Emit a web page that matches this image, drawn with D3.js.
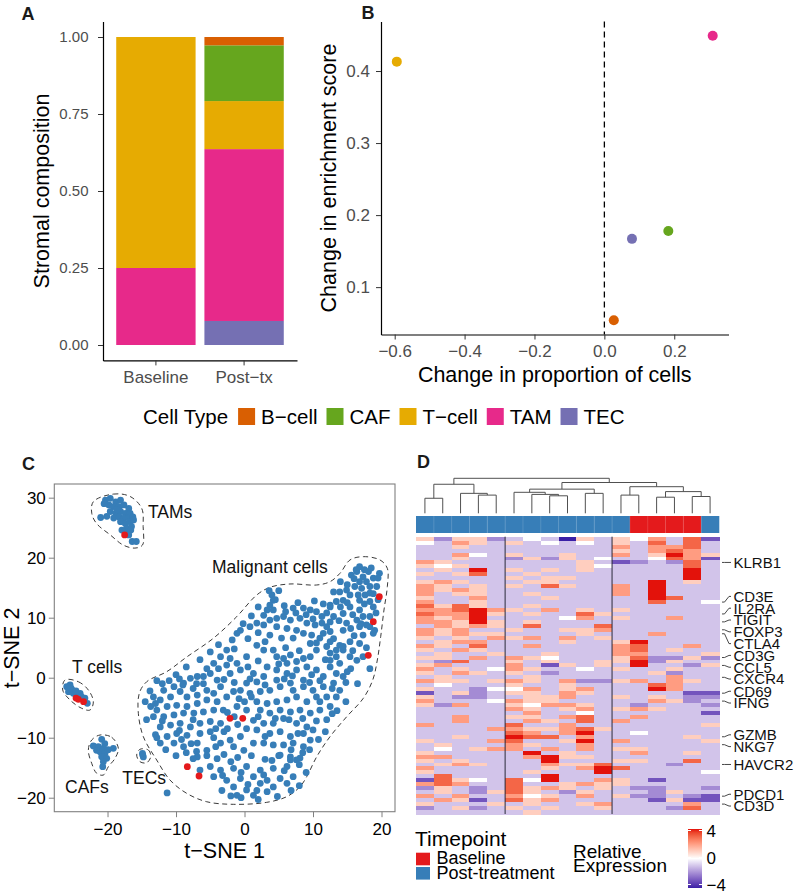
<!DOCTYPE html>
<html><head><meta charset="utf-8">
<script src="https://cdn.jsdelivr.net/npm/d3@7"></script>
<style>
body{margin:0;background:#fff}
svg{display:block}
text{font-family:"Liberation Sans",Arial,Helvetica,sans-serif}
</style>
</head><body>
<svg id="fig" width="800" height="895"></svg>
<script>
// ---------------- DATA ----------------
// Panel A: stromal composition
const compCategories = ["Baseline", "Post\u2212tx"];
const cellTypes = ["B\u2212cell", "CAF", "T\u2212cell", "TAM", "TEC"];
const cellColors = ["#D95F02", "#66A61E", "#E6AB02", "#E7298A", "#7570B3"];
const compBaseline = [0, 0, 0.75, 0.25, 0];
const compPostTx = [0.027, 0.181, 0.156, 0.558, 0.078];
const compTicks = [0, 0.25, 0.5, 0.75, 1];

// Panel B: change in proportion vs change in enrichment (same order as cellTypes)
const deltaProportion = [0.027, 0.183, -0.594, 0.31, 0.079];
const deltaEnrichment = [0.054, 0.178, 0.413, 0.449, 0.167];
const bXTicks = [-0.6, -0.4, -0.2, 0, 0.2];
const bYTicks = [0.1, 0.2, 0.3, 0.4];

// Panel C: t-SNE coordinates
const tsneXTicks = [-20, -10, 0, 10, 20];
const tsneYTicks = [-20, -10, 0, 10, 20, 30];
const tsneTAM = [[-21.0,26.7],[-20.3,29.6],[-19.6,29.9],[-18.8,29.3],[-18.1,29.6],[-19.8,28.8],[-19.1,28.5],[-18.3,28.5],[-17.6,28.8],[-16.9,28.2],[-19.6,27.7],[-18.8,27.4],[-18.1,27.7],[-17.4,27.4],[-16.7,27.4],[-20.1,26.9],[-19.1,26.6],[-18.3,26.8],[-17.6,26.6],[-16.9,26.6],[-16.3,26.8],[-18.1,26.0],[-17.4,25.7],[-16.7,26.0],[-17.2,24.9],[-16.5,25.2],[-17.9,24.6],[-17.4,24.1],[-16.6,24.6],[-16.4,22.7],[-15.8,22.7],[-20.5,29.0],[-18.6,28.0],[-16.2,26.3],[-16.9,23.8]];
const tsneTcell = [[-25.96,-1.5],[-25.47,-1.22],[-25.2,-2.05],[-25.7,-2.33],[-25.0,-2.6],[-24.0,-2.6],[-23.3,-3.4],[-22.95,-4.27],[-24.5,-3.1],[-23.8,-3.2],[-25.3,-1.8],[-24.6,-2.2]];
const tsneCAF = [[-20.85,-10.27],[-22.07,-11.38],[-21.34,-11.5],[-20.61,-11.77],[-19.15,-11.77],[-21.09,-12.33],[-20.36,-12.6],[-20.85,-13.17],[-20.12,-13.43],[-20.61,-14.0],[-20.7,-14.83],[-21.6,-12.1],[-19.9,-12.0],[-20.4,-11.0]];
const tsneTEC = [[-14.86,-12.88],[-14.77,-13.2],[-14.9,-12.6]];
const tsneOther = [[-11.3,-19.2]];
const tsneMalignant = [
[16.8,18.5],[18.1,17.7],[19.7,17.4],[16.4,17.7],[17.3,16.8],[15.6,17.1],[16.8,16.0],[17.8,16.0],[18.8,16.6],[19.5,16.6],[16.1,15.2],[17.1,14.9],[18.3,15.2],[19.3,15.2],[14.9,14.6],[13.9,14.3],[13.0,14.3],[15.4,13.8],[16.6,13.8],[17.6,13.8],[18.3,14.1],[16.8,12.9],[14.4,12.9],[13.4,12.7],[12.5,12.1],[18.3,12.7],[16.0,16.5],[17.5,18.0],[18.8,14.0],[15.0,15.5],
[12.5,11.8],[15.4,11.8],[16.8,11.3],[14.4,10.7],[17.3,10.2],[18.3,10.2],[13.0,10.2],[16.4,9.6],[14.9,9.1],[18.3,8.5],[19.0,7.9],[16.8,8.5],[14.4,7.9],[12.5,7.7],[11.5,7.4],[17.3,7.1],[18.8,7.4],[16.8,5.7],[15.4,6.0],[13.9,5.4],[14.4,4.6],[13.4,3.5],[15.4,3.5],[17.3,3.5],[16.4,2.9],[12.5,2.9],[13.9,2.4],
[4.0,13.8],[4.2,12.9],[3.7,12.1],[3.3,11.3],[4.2,11.3],[2.8,10.4],[7.1,11.6],[8.6,11.6],[9.6,11.3],[10.5,11.0],[5.7,10.2],[6.7,9.6],[8.1,9.9],[9.1,9.1],[10.3,8.8],[11.3,9.1],[12.0,8.5],[12.5,9.3],[11.3,10.2],[4.7,9.9],[3.7,9.6],[1.8,9.1],[0.8,8.5],[-0.6,7.9],[-1.1,7.4],[2.8,8.8],[4.7,8.5],[6.2,8.2],[7.6,7.9],[8.6,7.4],[9.8,7.1],[11.0,6.6],[3.7,7.1],[1.8,5.4],[5.4,6.6],[7.1,6.6],[9.6,5.7],[12.0,5.2],[12.5,6.0],
[-2.6,4.6],[-3.5,3.5],[-2.1,3.2],[-4.5,2.4],[-2.6,2.1],[-1.1,2.4],[0.3,3.5],[2.8,4.6],[4.2,4.6],[4.7,3.5],[5.7,3.2],[6.7,3.8],[6.2,2.4],[7.6,2.7],[8.6,3.2],[9.6,3.5],[10.5,4.6],[12.5,4.1],[13.4,4.6],[14.4,5.2],[3.3,1.8],[4.7,1.3],[6.2,0.7],[7.6,1.3],[9.1,1.8],[10.5,1.3],[12.5,1.8],[13.4,0.7],[14.4,0.2],[11.5,0.2],[8.6,-0.4],[6.7,-0.9],[4.7,-0.4],[2.8,0.2],[1.3,0.7],[-0.6,1.3],[-2.1,0.7],[-5.0,0.7],[-6.0,0.2],[-6.9,0.2],[-7.9,-0.1],[-8.9,-0.9],[-4.0,-0.4],[0.3,-0.9],[1.8,-0.7],
[-11.8,-2.1],[-10.3,-1.5],[-9.4,-2.3],[-13.3,-3.2],[-12.3,-3.7],[-10.8,-3.2],[-8.4,-3.2],[-6.9,-2.9],[-5.5,-2.1],[-4.5,-2.6],[-3.5,-1.5],[-13.7,-4.8],[-12.8,-5.4],[-11.3,-4.8],[-9.9,-4.6],[-8.4,-4.8],[-6.9,-4.3],[-5.5,-3.7],[-4.0,-4.0],[-2.6,-3.2],[-1.6,-2.3],[-13.3,-6.5],[-11.8,-6.5],[-10.3,-6.2],[-8.9,-5.9],[-7.4,-5.9],[-6.0,-5.7],[-4.5,-5.4],[-3.1,-5.4],[-1.1,-4.8],[-12.3,-8.2],[-10.8,-7.9],[-9.4,-7.6],[-7.9,-8.2],[-6.5,-7.6],[-5.0,-7.3],[-3.5,-7.6],[-11.3,-9.8],[-9.9,-9.3],[-8.4,-9.6],[-6.5,-9.3],[-5.0,-9.0],[-12.3,-10.9],[-10.3,-10.9],[-8.9,-11.5],[-6.9,-10.9],[-5.5,-12.1],[-3.5,-10.9],[-2.1,-10.4],
[-0.6,-2.1],[0.8,-2.6],[2.3,-2.3],[3.7,-2.1],[5.2,-1.5],[7.1,-2.1],[8.6,-1.5],[10.0,-2.1],[11.5,-1.5],[13.0,-0.9],[13.9,-2.1],[1.8,-4.0],[3.3,-4.3],[4.7,-4.0],[6.2,-3.7],[7.6,-3.2],[9.1,-4.0],[10.5,-3.2],[12.0,-3.2],[13.4,-3.2],[0.3,-5.4],[2.3,-5.4],[3.7,-5.9],[5.2,-5.4],[6.7,-5.7],[8.1,-5.4],[9.6,-5.9],[11.0,-5.4],[12.5,-4.8],[1.3,-7.1],[2.8,-7.6],[4.2,-7.6],[5.7,-6.8],[7.6,-7.6],[9.1,-8.2],[1.8,-8.7],[3.7,-9.3],[5.2,-9.0],[6.7,-9.8],[8.6,-9.3],[10.0,-8.7],[-0.6,-9.8],[-1.6,-11.5],[-0.1,-12.1],[1.3,-10.9],[2.8,-10.9],[4.2,-11.2],[5.7,-11.2],[7.1,-10.9],[8.6,-11.5],[8.1,-13.4],[6.7,-13.2],[5.2,-12.9],[9.6,-10.4],
[6.7,-13.7],[-5.0,-14.8],[-3.5,-15.4],[-1.6,-15.1],[0.3,-14.8],[2.3,-15.4],[4.2,-15.1],[6.2,-14.8],[7.6,-13.7],[-4.5,-16.5],[-2.6,-17.1],[-0.6,-16.8],[1.3,-16.5],[3.3,-17.1],[5.2,-16.8],[7.1,-16.5],[-1.6,-18.2],[0.3,-18.7],[2.3,-17.6],[4.2,-18.2],[6.2,-17.6],[-1.1,-19.6],[1.3,-19.6],[3.3,-19.0],[-6.5,-15.4],[-6.9,-13.2],[-7.5,-13.5],[-5.5,-13.0],[-4.0,-13.5],[-3.0,-12.8],[-1.0,-13.3],[1.0,-13.0],[3.0,-13.6],[5.0,-13.0],[8.0,-14.5],[8.5,-12.5],
[-12.0,-1.0],[-13.8,-2.2],[-9.0,-1.2],[-7.5,-1.8],[-6.0,-1.0],[-3.0,-0.3],[-1.5,-0.8],[0.8,-0.2],[3.0,-1.2],[5.8,-0.2],[9.8,0.5],[11.0,-0.5],[12.8,-1.8],[14.8,-0.8],[15.5,1.5],[15.8,4.5],[17.8,5.0],[18.3,1.5],[16.0,7.0],[17.8,8.8],[19.2,10.8],[15.8,10.5],[14.0,11.8],[11.5,12.3],[10.2,12.8],[7.8,12.5],[5.8,12.0],[3.6,14.5],[2.0,11.8],[1.0,10.3],[-0.2,9.0],[-1.8,6.3],[-3.8,5.5],[-5.0,4.3],[-6.5,3.0],[-8.5,1.8],[-10.0,0.5],[-12.8,-0.5],[-14.5,-4.0],[-14.3,-7.0],[-13.0,-9.5],[-11.5,-12.0],[-10.0,-13.0],[-8.5,-12.5],[-7.0,-12.3],[-3.0,-9.0],[-1.5,-6.5],[0.0,-4.0],[4.0,-13.8],[6.8,-12.0],[10.8,-10.3],[12.0,-7.0],[13.5,-5.5],[14.8,-4.0],[11.8,-9.0],[-4.2,-11.5],[-2.0,-14.0],[0.5,-17.8],[4.8,-19.8],[6.8,-18.8],[-0.5,-20.0],[2.0,-20.3],[8.0,-18.0],[9.0,-15.8],[-3.3,-18.8],
[5.0,14.5],[4.5,13.0],[6.0,11.0],[7.5,10.8],[9.0,10.5],[10.0,9.8],[12.0,10.8],[13.8,9.5],[15.5,8.2],[17.0,9.0],[18.8,11.8],[19.5,13.0],[17.5,12.3],[15.0,12.5],[14.0,16.0],[16.3,18.0],[18.5,18.3],
[0.5,6.5],[2.0,7.5],[3.0,6.0],[6.0,5.0],[8.0,4.5],[10.5,5.8],[11.8,3.0],[13.0,6.5],[15.0,1.0],[16.5,-1.0],[9.5,-0.8],[7.0,0.3],[5.0,2.3],[2.0,2.8],[0.5,1.8],[-1.5,4.8],[-3.8,1.5],[-5.5,1.5],[-7.0,-1.0],[-9.5,-0.2],[-11.0,-0.5],
[-13.0,-4.3],[-12.0,-7.2],[-9.5,-8.8],[-7.5,-7.0],[-4.2,-8.5],[-2.5,-8.5],[-1.0,-7.8],[0.3,-8.5],[-2.5,-5.8],[-0.8,-3.5],[1.0,-3.2],[-12.8,-10.0],[-9.2,-10.3],[-7.8,-11.0],[-4.5,-10.0],
[2.0,-6.5],[4.5,-6.8],[6.5,-7.0],[8.5,-6.8],[10.5,-7.2],[11.0,-4.0],[12.8,-6.0],[3.0,-9.8],[7.8,-9.3],[9.5,-12.0],[-0.5,-15.8],[2.8,-16.2],[5.8,-15.5],[-3.2,-16.3],[1.8,-18.8],[-2.0,-19.7]
];
const tsneBaselineCells = [[-17.5,23.8],[-24.26,-3.6],[-23.5,-4.0],[-24.6,-3.4],[19.68,13.5],[18.8,9.33],[18.07,3.73],[-2.12,-6.77],[-0.26,-6.77],[-8.35,-14.83],[-6.64,-16.38]];
// dashed outlines around the clusters (t-SNE units)
const hullTAM = [[-22.07,29.33],[-19.15,30.6],[-16.7,30.2],[-15.0,28.2],[-14.8,25.2],[-14.9,22.1],[-16.0,21.6],[-17.7,22.1],[-19.6,23.8],[-21.6,25.7],[-22.3,27.4]];
const hullMalignant = [[15.40,19.62],[17.34,20.17],[19.78,19.62],[20.85,18.23],[20.85,15.17],[20.36,11.28],[19.88,6.83],[19.39,2.95],[18.72,-0.38],[17.34,-3.43],[14.92,-6.5],[12.48,-9.83],[10.54,-13.17],[9.08,-16.5],[8.10,-18.17],[6.16,-19.83],[3.24,-20.77],[-1.64,-21.1],[-5.52,-20.67],[-8.44,-19.27],[-10.88,-17.05],[-12.82,-13.72],[-14.77,-9.83],[-15.50,-5.93],[-15.36,-2.6],[-14.28,-0.67],[-11.36,1.0],[-8.44,3.45],[-4.55,6.57],[-1.14,10.17],[1.78,13.78],[3.72,15.07],[6.64,15.62],[10.54,15.45],[12.48,16.0],[13.94,17.4]];
const hullTcell = [[-26.2,-0.38],[-24.26,-0.67],[-22.8,-2.05],[-22.07,-4.0],[-22.55,-5.38],[-23.77,-5.1],[-25.47,-3.72],[-26.54,-2.05]];
const hullCAF = [[-21.09,-9.55],[-19.39,-9.93],[-18.42,-11.77],[-18.9,-13.43],[-19.88,-14.83],[-20.61,-16.22],[-21.58,-15.93],[-22.31,-14.27],[-22.8,-12.05],[-22.31,-10.38]];
const hullTEC = [[-15.26,-11.93],[-14.04,-12.05],[-13.69,-13.17],[-14.28,-14.17],[-15.26,-14.0],[-15.74,-12.88]];
const clusterLabels = [["TAMs",-14.1,26.6],["Malignant cells",-4.74,17.5],["T cells",-25.2,0.83],["CAFs",-26.2,-19.2],["TECs",-17.84,-17.7]];

// Panel D: heatmap
const timepoint = ["Post-treatment","Post-treatment","Post-treatment","Post-treatment","Post-treatment","Post-treatment","Post-treatment","Post-treatment","Post-treatment","Post-treatment","Post-treatment","Post-treatment","Baseline","Baseline","Baseline","Baseline","Post-treatment"];
const timepointLevels = ["Baseline","Post-treatment"];
const timepointColors = ["#E41A1C","#377EB8"];
const columnSplits = [5, 11];
const heatRows = [
[1,-2,1,1,-2, -1,0,-1,-4,1,-1, 1,0,2,-1,3,-3],
[0,-1,2,1,-1, 1,-1,0,-1,0,-1, 1,-1,3,-1,3,-1],
[-1,-1,1,-1,-1, -1,-1,-1,-1,-1,-1, 2,-1,2,2,3,-1],
[-1,-1,-1,-1,-1, -1,-1,-1,-1,-1,-1, 1,-1,2,3,2,-1],
[-1,-1,2,0,-1, 1,-1,-1,1,-1,-1, 2,-1,1,4,2,1],
[-1,-1,1,-1,-1, -2,1,-2,1,-1,0, -1,-1,0,3,2,-3],
[2,1,-1,-1,-1, -1,-1,-1,-1,1,-1, -3,-2,-1,-2,3,-1],
[1,0,1,-1,-1, -1,-1,-1,-1,1,0, -1,-1,-1,-1,3,-1],
[-1,1,-1,4,-1, 1,-1,1,-1,1,-1, -1,-1,-1,-1,4,-1],
[1,-1,1,3,-1, -1,1,-1,-1,-1,-1, -1,-1,-1,-1,4,-1],
[-1,-1,-1,-1,-1, 1,-1,1,1,-1,-1, -1,-1,-1,-1,4,-1],
[1,2,1,-1,-1, -1,1,1,-1,-1,-1, -1,-1,4,-1,1,-1],
[2,1,-1,1,-1, 1,-1,3,1,-1,-1, 2,-1,4,-1,-1,-1],
[2,1,2,1,-1, -1,-1,-1,-1,-1,-1, 2,-1,4,-1,-1,-1],
[2,-1,1,1,-1, -1,1,-1,-1,-1,-1, 2,-1,4,-1,-1,-1],
[1,-1,-1,2,-1, -1,-1,1,-1,-1,-1, -1,-1,4,3,-1,-1],
[2,-1,-1,1,-1, -1,-1,-1,-1,-1,-1, -1,-1,3,-1,-1,0],
[3,1,3,1,-1, -1,1,-1,-1,-1,-1, -1,-1,-1,-1,-1,-1],
[2,2,3,4,2, 1,-1,2,-1,1,-1, 1,-1,-1,-1,-1,-1],
[3,2,2,4,1, -1,1,-1,-1,3,1, -1,-1,-1,-1,-1,-1],
[2,1,2,4,-1, -1,-1,-1,0,2,-1, 1,-1,-1,2,-1,-1],
[2,2,1,4,1, -1,1,-1,-1,-1,-1, -1,-1,-1,-1,-1,-1],
[-1,2,1,2,1, -1,3,-1,-1,-1,3, -1,-1,-1,-1,-1,-1],
[2,1,2,-1,-1, 1,-1,-1,1,1,2, -1,-1,-1,-1,-1,-1],
[2,1,2,1,1, -1,-1,-1,-1,1,-1, -1,-1,2,-1,-1,-1],
[1,-1,1,-1,2, 1,2,-1,2,-1,1, -1,-1,-1,-1,-1,-1],
[-1,1,2,2,-1, -1,-1,-1,1,-1,-1, 1,4,-1,-1,-1,-1],
[2,1,-1,3,-1, -1,2,-1,-1,-1,-1, 2,3,-1,-1,2,-1],
[1,-1,2,1,-1, -1,-1,-1,-1,-1,-1, 2,3,-1,1,-1,-1],
[-1,1,-1,-1,1, -1,-1,1,-1,-1,-1, 2,2,-1,-1,-1,1],
[1,1,-1,2,-1, 2,1,0,-1,-1,-1, 1,3,-2,-2,1,-2],
[-1,-2,3,-1,-1, 1,-1,1,-1,-1,1, 1,4,-2,1,-1,-1],
[1,2,-1,-1,-1, 2,-1,-3,1,-1,1, -1,4,-1,-1,-2,1],
[2,-1,1,-1,0, 2,1,-1,-1,0,-1, 1,-1,-1,1,-1,-1],
[1,-1,2,1,-1, 1,-1,-2,-1,-1,-1, -1,-1,1,-2,-1,-1],
[-1,1,-1,-1,-1, -1,1,-1,-1,-1,-1, -1,-1,-1,2,-1,-1],
[2,1,1,-1,1, 2,1,-1,2,-2,-2, 1,2,-1,2,1,-1],
[-1,0,-1,-1,-1, 1,-1,-1,1,-1,-1, -1,-1,3,2,-1,-1],
[1,-1,-1,-2,0, 0,2,-1,1,2,-1, -1,-1,4,2,-1,-1],
[-3,-1,1,-2,-1, 1,1,-1,2,1,-1, -1,-1,-1,-1,-3,-3],
[1,-1,-2,-2,-1, -1,1,1,2,-1,-1, 1,-1,1,-1,-2,-2],
[2,-1,-1,-1,0, 2,1,1,-1,-1,-1, -1,-1,2,1,-2,-1],
[1,-2,2,-1,-1, 1,0,2,2,1,-1, -1,-2,-1,-1,-1,-2],
[-1,-1,-1,-1,-1, 2,1,-1,1,2,-1, 1,2,1,-1,-1,-1],
[-1,-1,-1,-1,-1, -1,2,-1,-1,0,-1, -1,-1,-1,-1,-1,-3],
[-1,-1,2,-1,-1, 1,1,-1,2,3,-1, -1,2,-1,-1,-1,-1],
[-1,-1,2,-1,-1, -1,2,1,-1,3,-1, 2,-1,-1,-1,-1,-1],
[2,-1,-1,-1,-1, 3,-1,-1,2,-1,-1, -1,-1,-1,-1,-1,1],
[-1,-1,-1,-1,2, 2,1,1,2,3,1, -1,-1,-1,-1,-1,-1],
[-1,-1,-1,-1,-1, 3,2,-1,2,4,-1, -1,0,-1,-1,-1,-1],
[-1,-1,1,-1,-1, 4,3,3,-1,2,-1, -1,-1,-1,-1,1,-1],
[1,-1,-1,-1,2, 3,-1,-1,1,4,-1, 2,-1,-1,-1,-1,1],
[-1,1,-1,-1,-1, 2,1,-1,-1,2,-1, -1,-1,-1,-1,-1,-1],
[-1,0,-1,1,2, 2,-1,2,-1,2,-1, 1,1,-1,-1,-1,-1],
[1,-1,-1,-1,-1, -1,4,-1,1,-1,-1, -1,2,-1,-1,1,-1],
[2,2,-1,-1,-1, -1,2,4,1,1,-1, -1,-1,-1,-1,-1,-1],
[1,-1,1,-1,-1, -1,-1,4,-1,-1,-1, 1,1,-1,-1,3,-1],
[-1,1,2,1,-1, -1,-1,2,1,1,3, -1,-1,-1,-2,-1,-1],
[2,-1,-1,-1,-1, -1,-1,1,-1,2,4, 3,-1,-1,-1,-1,-1],
[1,-1,-1,-1,-1, -1,1,-1,-1,-1,4, -1,-1,-1,-1,-1,0],
[-1,3,-1,-1,-1, -1,-1,4,-1,-1,-1, -1,-1,-1,-1,-1,-1],
[-3,3,1,0,-1, 3,0,4,-1,-1,2, 1,-1,-3,-1,-1,-1],
[2,3,2,-1,-1, 3,-1,-1,1,2,1, 1,-1,-1,-1,-1,-1],
[-2,1,-1,-2,-1, 3,1,2,1,-1,1, -1,-2,-2,-1,-1,-2],
[-1,1,-1,-2,1, 3,1,-1,-2,1,-1, -1,-1,-2,1,-1,-1],
[2,-1,2,-1,-1, 2,0,1,-1,2,-1, 1,-2,-2,-1,-2,-3],
[-1,2,1,-3,-1, 3,1,2,-1,-1,-1, -1,-1,-3,1,-3,-3],
[1,-1,-1,-1,1, -1,1,-1,-1,1,2, -1,-1,-1,-1,2,-1],
[-2,-1,1,-2,-1, 1,-1,1,-1,-1,1, -1,-1,-1,-2,3,-1],
[-1,-1,-1,-1,-1, -1,1,-1,-1,-1,-1, -1,-1,-1,-1,-1,-1]
];
const geneNames = ["KLRB1","CD3E","IL2RA","TIGIT","FOXP3","CTLA4","CD3G","CCL5","CXCR4","CD69","IFNG","GZMB","NKG7","HAVCR2","PDCD1","CD3D"];
const geneRows  = [6,16,19,21,23,24,30,32,35,39,41,50,52,57,65,67];
const exprTicks = [-4, 0, 4];
// column dendrogram (merge heights)
const dendro = {h:10, children:[
  {h:8.3, children:[{h:4.3, children:[{leaf:0},{leaf:1}]}, {h:5.7, children:[{leaf:2},{h:5.2, children:[{leaf:3},{leaf:4}]}]}]},
  {h:8.8, children:[
    {h:6.9, children:[{h:6.0, children:[{leaf:5},{h:5.4, children:[{leaf:6},{h:5.0, children:[{leaf:7},{leaf:8}]}]}]}, {h:5.7, children:[{leaf:9},{leaf:10}]}]},
    {h:7.6, children:[{h:5.2, children:[{leaf:11},{leaf:12}]}, {h:6.2, children:[{h:4.6, children:[{leaf:13},{leaf:14}]}, {h:4.8, children:[{leaf:15},{leaf:16}]}]}]}
  ]}
]};

// ---------------- DRAWING ----------------
const svg = d3.select("#fig");
const MINUS = "\u2212";

function panelLabel(t, x, y) {
  svg.append("text").attr("x", x).attr("y", y).attr("font-size", 18)
    .attr("font-weight", "bold").attr("fill", "#1a1a1a").text(t);
}
function styleAxis(g, opts) {
  g.select(".domain").attr("stroke", opts.domain || "#000").attr("stroke-width", opts.dw || 1.2)
    .style("display", opts.hideDomain ? "none" : null);
  g.selectAll(".tick line").attr("stroke", opts.tick || "#333").attr("stroke-width", 1);
  g.selectAll(".tick text").attr("font-size", opts.fs).attr("fill", opts.fill || "#4D4D4D")
    .attr("font-family", '"Liberation Sans",Arial,sans-serif');
}

// ===== Panel A =====
panelLabel("A", 21.5, 19.5);
const aX = d3.scaleBand().domain(compCategories).range([103, 297]).paddingInner(0.1).paddingOuter(0.15);
const aY = d3.scaleLinear().domain([-0.05, 1.05]).range([360.4, 21.6]);
[compBaseline, compPostTx].forEach((vals, ci) => {
  let cum = 0;
  for (let k = cellTypes.length - 1; k >= 0; k--) {
    const v = vals[k];
    if (v > 0) {
      svg.append("rect").attr("x", aX(compCategories[ci])).attr("width", aX.bandwidth())
        .attr("y", aY(cum + v)).attr("height", aY(cum) - aY(cum + v)).attr("fill", cellColors[k]);
    }
    cum += v;
  }
});
const gAy = svg.append("g").attr("transform", "translate(103,0)")
  .call(d3.axisLeft(aY).tickValues(compTicks).tickFormat(d3.format(".2f")).tickSize(5).tickSizeOuter(0).tickPadding(9.5));
styleAxis(gAy, {fs: 15});
const gAx = svg.append("g").attr("transform", "translate(0,360.4)")
  .call(d3.axisBottom(aX).tickSize(5).tickSizeOuter(0).tickPadding(5.5));
styleAxis(gAx, {fs: 17});
svg.append("text").attr("transform", "translate(48.5,191) rotate(-90)").attr("text-anchor", "middle")
  .attr("font-size", 21.5).attr("fill", "#000").text("Stromal composition");

// ===== Panel B =====
panelLabel("B", 361.5, 19);
const xe = d3.extent(deltaProportion), ye = d3.extent(deltaEnrichment);
const px = (xe[1] - xe[0]) * 0.05, py = (ye[1] - ye[0]) * 0.05;
const bX = d3.scaleLinear().domain([xe[0] - px, xe[1] + px]).range([381, 728.5]);
const bY = d3.scaleLinear().domain([ye[0] - py, ye[1] + py]).range([334.5, 21.5]);
svg.append("line").attr("x1", bX(0)).attr("x2", bX(0)).attr("y1", 21.5).attr("y2", 334.5)
  .attr("stroke", "#000").attr("stroke-width", 1.3).attr("stroke-dasharray", "6,4");
cellTypes.forEach((c, i) => {
  svg.append("circle").attr("cx", bX(deltaProportion[i])).attr("cy", bY(deltaEnrichment[i]))
    .attr("r", 5).attr("fill", cellColors[i]);
});
const gBy = svg.append("g").attr("transform", "translate(381,0)")
  .call(d3.axisLeft(bY).tickValues(bYTicks).tickFormat(d3.format(".1f")).tickSize(5).tickSizeOuter(0).tickPadding(6));
styleAxis(gBy, {fs: 17});
const gBx = svg.append("g").attr("transform", "translate(0,334.5)")
  .call(d3.axisBottom(bX).tickValues(bXTicks).tickFormat(d3.format(".1f")).tickSize(5).tickSizeOuter(0).tickPadding(5.7));
styleAxis(gBx, {fs: 17});
svg.append("text").attr("x", (381 + 728.5) / 2).attr("y", 382).attr("text-anchor", "middle")
  .attr("font-size", 21.5).attr("fill", "#000").text("Change in proportion of cells");
svg.append("text").attr("transform", "translate(336,178) rotate(-90)").attr("text-anchor", "middle")
  .attr("font-size", 21.5).attr("fill", "#000").text("Change in enrichment score");

// ===== Cell type legend =====
{
  const ly = 416.5;
  let x = 143;
  const t = svg.append("text").attr("x", x).attr("y", ly).attr("dy", "0.35em").attr("font-size", 20.5).attr("fill", "#000").text("Cell Type");
  x += t.node().getComputedTextLength() + 10;
  cellTypes.forEach((c, i) => {
    svg.append("rect").attr("x", x).attr("y", ly - 8.5).attr("width", 17).attr("height", 17).attr("fill", cellColors[i]);
    x += 17 + 6;
    const tt = svg.append("text").attr("x", x).attr("y", ly).attr("dy", "0.35em").attr("font-size", 20.5).attr("fill", "#000").text(c);
    x += tt.node().getComputedTextLength() + 9;
  });
}

// ===== Panel C =====
panelLabel("C", 22, 470);
const cX = d3.scaleLinear().domain([-27.77, 21.97]).range([54.3, 395]);
const cY = d3.scaleLinear().domain([-22.33, 32.28]).range([811.7, 484]);
const hullLine = d3.line().x(d => cX(d[0])).y(d => cY(d[1])).curve(d3.curveCatmullRomClosed.alpha(0.5));
[hullTAM, hullMalignant, hullTcell, hullCAF, hullTEC].forEach(h => {
  svg.append("path").attr("d", hullLine(h)).attr("fill", "none").attr("stroke", "#3a3a3a")
    .attr("stroke-width", 1).attr("stroke-dasharray", "5,3.5");
});
const blueCells = [].concat(tsneMalignant, tsneTAM, tsneTcell, tsneCAF, tsneTEC, tsneOther);
svg.append("g").selectAll("circle").data(blueCells).join("circle")
  .attr("cx", d => cX(d[0])).attr("cy", d => cY(d[1])).attr("r", 3.4).attr("fill", timepointColors[1]);
svg.append("g").selectAll("circle").data(tsneBaselineCells).join("circle")
  .attr("cx", d => cX(d[0])).attr("cy", d => cY(d[1])).attr("r", 3.4).attr("fill", timepointColors[0]);
clusterLabels.forEach(l => {
  svg.append("text").attr("x", cX(l[1])).attr("y", cY(l[2])).attr("font-size", 17.5).attr("fill", "#111").text(l[0]);
});
svg.append("rect").attr("x", 54.3).attr("y", 484).attr("width", 395 - 54.3).attr("height", 811.7 - 484)
  .attr("fill", "none").attr("stroke", "#808080").attr("stroke-width", 1.1);
const gCy = svg.append("g").attr("transform", "translate(54.3,0)")
  .call(d3.axisLeft(cY).tickValues(tsneYTicks).tickSize(5.5).tickSizeOuter(0).tickPadding(3));
styleAxis(gCy, {fs: 17, fill: "#000", tick: "#808080", hideDomain: true});
const gCx = svg.append("g").attr("transform", "translate(0,811.7)")
  .call(d3.axisBottom(cX).tickValues(tsneXTicks).tickSize(5.5).tickSizeOuter(0).tickPadding(6));
styleAxis(gCx, {fs: 17, fill: "#000", tick: "#808080", hideDomain: true});
svg.append("text").attr("x", (54.3 + 395) / 2).attr("y", 858).attr("text-anchor", "middle")
  .attr("font-size", 21.5).attr("fill", "#000").text("t" + MINUS + "SNE 1");
svg.append("text").attr("transform", "translate(19,648) rotate(-90)").attr("text-anchor", "middle")
  .attr("font-size", 21.5).attr("fill", "#000").text("t" + MINUS + "SNE 2");

// ===== Panel D =====
panelLabel("D", 417, 468);
const nCols = timepoint.length, nRows = heatRows.length;
const hX = d3.scaleBand().domain(d3.range(nCols)).range([416, 719]);
const hY = d3.scaleBand().domain(d3.range(nRows)).range([536.7, 814]);
const hColor = d3.scaleLinear().domain([-4, 0, 4]).range(["#3A1FA6", "#FFFFFF", "#E3120B"]).interpolate(d3.interpolateLab);
const tpColor = d3.scaleOrdinal().domain(timepointLevels).range(timepointColors);

// dendrogram
const dY = d3.scaleLinear().domain([0, 10]).range([513.3, 478.3]);
function layout(n) {
  if (n.leaf !== undefined) { n.x = hX(n.leaf) + hX.bandwidth() / 2; n.hh = 0; return; }
  n.children.forEach(layout);
  n.x = d3.mean(n.children, c => c.x); n.hh = n.h;
}
layout(dendro);
const dg = svg.append("g").attr("stroke", "#505050").attr("stroke-width", 1).attr("fill", "none");
(function drawNode(n) {
  if (!n.children) return;
  const [a, b] = n.children;
  dg.append("path").attr("d", `M${a.x},${dY(a.hh)}V${dY(n.hh)}H${b.x}V${dY(b.hh)}`);
  n.children.forEach(drawNode);
})(dendro);

// annotation bar
svg.append("g").selectAll("rect").data(timepoint).join("rect")
  .attr("x", (d, i) => hX(i)).attr("y", 516).attr("width", hX.bandwidth() + 0.3).attr("height", 17)
  .attr("fill", d => tpColor(d));
svg.append("g").selectAll("line").data(d3.range(1, nCols)).join("line")
  .attr("x1", i => hX(i)).attr("x2", i => hX(i)).attr("y1", 516).attr("y2", 533)
  .attr("stroke", "#ffffff").attr("stroke-opacity", 0.25).attr("stroke-width", 0.6);

// heatmap cells
const cells = [];
heatRows.forEach((row, r) => row.forEach((v, c) => cells.push({r, c, v})));
svg.append("g").attr("shape-rendering", "crispEdges").selectAll("rect").data(cells).join("rect")
  .attr("x", d => hX(d.c)).attr("y", d => hY(d.r)).attr("width", hX.bandwidth() + 0.6).attr("height", hY.bandwidth() + 0.6)
  .attr("fill", d => hColor(d.v));
columnSplits.forEach(s => {
  svg.append("line").attr("x1", hX(s)).attr("x2", hX(s)).attr("y1", 536.7).attr("y2", 814)
    .attr("stroke", "#2a2a3a").attr("stroke-width", 1);
});

// gene marks with simple repel
{
  const gap = 11.8;
  const items = geneNames.map((g, i) => ({name: g, ry: hY(geneRows[i]) + hY.bandwidth() / 2}))
    .sort((a, b) => a.ry - b.ry);
  let groups = items.map(it => ({m: [it], c: it.ry}));
  let merged = true;
  while (merged) {
    merged = false;
    for (let i = 0; i < groups.length - 1; i++) {
      const g1 = groups[i], g2 = groups[i + 1];
      const b1 = g1.c + (g1.m.length - 1) * gap / 2, t2 = g2.c - (g2.m.length - 1) * gap / 2;
      if (t2 - b1 < gap) {
        const m = g1.m.concat(g2.m);
        groups.splice(i, 2, {m, c: d3.mean(m, d => d.ry)});
        merged = true; break;
      }
    }
  }
  groups.forEach(g => g.m.forEach((it, j) => it.ly = g.c + (j - (g.m.length - 1) / 2) * gap));
  items.forEach(it => {
    svg.append("path").attr("d", `M722,${it.ry}H724.5L729,${it.ly}H731`)
      .attr("fill", "none").attr("stroke", "#333").attr("stroke-width", 0.9);
    svg.append("text").attr("x", 733.5).attr("y", it.ly).attr("dy", "0.36em")
      .attr("font-size", 15).attr("fill", "#111").text(it.name);
  });
}

// Timepoint legend
svg.append("text").attr("x", 415).attr("y", 845.7).attr("font-size", 21).attr("fill", "#000").text("Timepoint");
timepointLevels.forEach((lv, i) => {
  svg.append("rect").attr("x", 416).attr("y", 852.7 + i * 14.3).attr("width", 14).attr("height", 12.6).attr("fill", timepointColors[i]);
  svg.append("text").attr("x", 436.5).attr("y", 864.2 + i * 14.8).attr("font-size", 18).attr("fill", "#000").text(lv);
});

// Relative expression colour bar
svg.append("text").attr("x", 573).attr("y", 858).attr("font-size", 19).attr("fill", "#000").text("Relative");
svg.append("text").attr("x", 573).attr("y", 872).attr("font-size", 19).attr("fill", "#000").text("Expression");
const cbY = d3.scaleLinear().domain([-4, 4]).range([884.5, 830.5]);
const grad = svg.append("defs").append("linearGradient").attr("id", "cbgrad")
  .attr("x1", 0).attr("y1", 1).attr("x2", 0).attr("y2", 0);
d3.range(-4, 4.01, 0.5).forEach(v => {
  grad.append("stop").attr("offset", (v + 4) / 8).attr("stop-color", hColor(v));
});
svg.append("rect").attr("x", 688).attr("y", 829).attr("width", 14).attr("height", 59).attr("fill", "url(#cbgrad)");
exprTicks.forEach(v => {
  svg.append("line").attr("x1", 688).attr("x2", 691).attr("y1", cbY(v)).attr("y2", cbY(v)).attr("stroke", "#fff").attr("stroke-width", 1);
  svg.append("line").attr("x1", 699).attr("x2", 702).attr("y1", cbY(v)).attr("y2", cbY(v)).attr("stroke", "#fff").attr("stroke-width", 1);
  svg.append("text").attr("x", 706.5).attr("y", cbY(v)).attr("dy", "0.36em").attr("font-size", 17).attr("fill", "#000")
    .text(v < 0 ? MINUS + Math.abs(v) : String(v));
});
</script>
</body></html>
